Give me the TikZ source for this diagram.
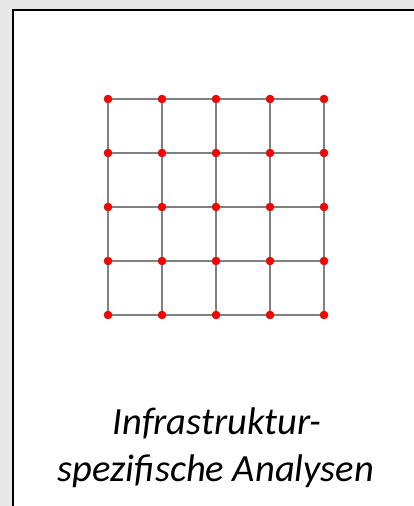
\documentclass[tikz,border=0pt]{standalone}
\usepackage{fontspec}
\setmainfont{Carlito}
\tikzset{
  knoten/.style={circle,fill=red,draw=red!75!black,line width=0.4,inner sep=0pt,minimum size=8pt},
  kante/.style={draw=black!50,line width=1.5},
  titel/.style={font=\itshape\fontsize{38.5}{47}\selectfont,anchor=base,inner sep=0pt}
}
\begin{document}
\begin{tikzpicture}[x=1pt,y=-1pt]
	\useasboundingbox (0,0) rectangle (414,506);
	%frame
	\fill[black!9] (0,0) rectangle (414,506);
	\fill[white] (13,10) rectangle (414,506);
	\draw[line width=2.5] (13,508) -- (13,10) -- (416,10);
	%grid
	\foreach \i in {0,...,4}
		\foreach \j in {0,...,4}
			\node[knoten] (k\i\j) at (108+54*\i,99+54*\j) {};
	\foreach \i [count=\n from 1] in {0,...,3}
		\foreach \j in {0,...,4}{
			\draw[kante] (k\i\j) -- (k\n\j);
			\draw[kante] (k\j\i) -- (k\j\n);
		}
	%label
	\node[titel] (zeile1) at (217,434) {Infrastruktur-};
	\node[titel] (zeile2) at (216,481) {spezifische Analysen};
\end{tikzpicture}
\end{document}
